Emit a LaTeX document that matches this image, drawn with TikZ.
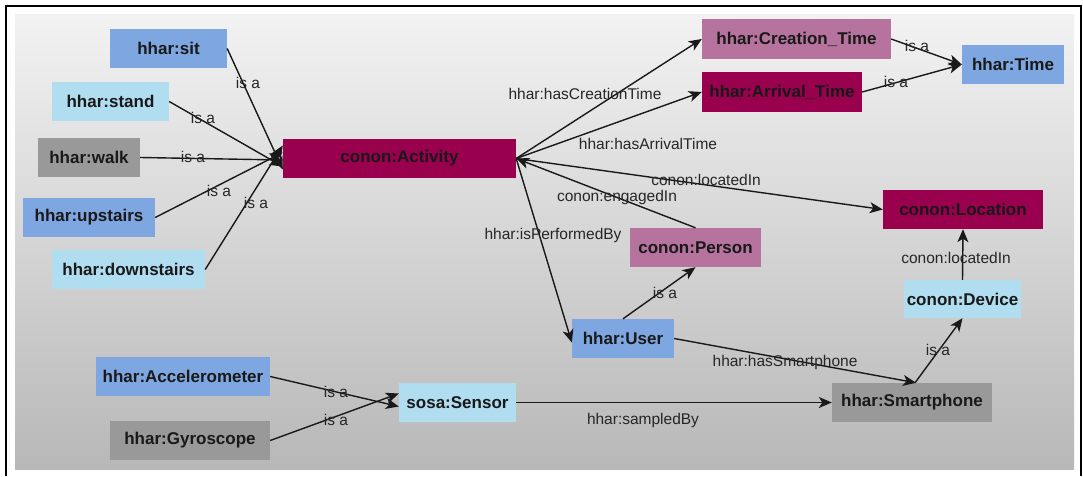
\documentclass[tikz,border=0pt]{standalone}
\usepackage{fontspec}
\setmainfont{Liberation Sans}
\usetikzlibrary{arrows.meta}
\definecolor{cblue}{HTML}{7EA6E0}
\definecolor{clight}{HTML}{B1DDF0}
\definecolor{cgray}{HTML}{999999}
\definecolor{cmaroon}{HTML}{99004D}
\definecolor{cmauve}{HTML}{B5739D}
\begin{document}
\begin{tikzpicture}[x=1pt,y=-1pt,
  box/.style={rectangle, inner sep=0pt, minimum height=39pt,
    font=\fontsize{17}{20}\selectfont\bfseries, text=black!90},
  blue/.style={box, fill=cblue},
  light/.style={box, fill=clight},
  grey/.style={box, fill=cgray},
  maroon/.style={box, fill=cmaroon},
  mauve/.style={box, fill=cmauve},
  rel/.style={draw=black!90, line width=1.4pt,
    -{Stealth[length=13pt,width=11pt,inset=3.5pt]}},
  lbl/.style={font=\fontsize{15.5}{18}\selectfont, text=black!85, inner sep=0pt}
]
\useasboundingbox (0,0) rectangle (1083,476);
% panel and frame
\shade[top color=black!5, bottom color=black!28] (15,15) rectangle (1074,469);
\draw[line width=1.5pt] (6,476) -- (6,6) -- (1081,6) -- (1081,476);

% classes
\node[blue,  minimum width=117pt] (sit)   at (168.5,48.5) {hhar:sit};
\node[light, minimum width=117pt] (stand) at (110.5,101.5) {hhar:stand};
\node[grey,  minimum width=102pt] (walk)  at (89,157.5) {hhar:walk};
\node[blue,  minimum width=132pt] (up)    at (89,217.5) {hhar:upstairs};
\node[light, minimum width=153pt] (down)  at (128.5,269.5) {hhar:downstairs};
\node[blue,  minimum width=174pt] (acc)   at (183,376.5) {hhar:Accelerometer};
\node[grey,  minimum width=160pt] (gyro)  at (190,440.5) {hhar:Gyroscope};
\node[maroon,minimum width=233pt] (act)   at (399.5,158.5) {conon:Activity};
\node[mauve, minimum width=189pt, minimum height=40pt] (ct) at (796.5,39) {hhar:Creation\_Time};
\node[maroon,minimum width=160pt, minimum height=40pt] (at) at (782,92) {hhar:Arrival\_Time};
\node[blue,  minimum width=102pt] (time)  at (1013,64.5) {hhar:Time};
\node[maroon,minimum width=160pt] (loc)   at (963,209.5) {conon:Location};
\node[mauve, minimum width=131pt] (pers)  at (695.5,247.5) {conon:Person};
\node[blue,  minimum width=102pt] (user)  at (623,338.5) {hhar:User};
\node[light, minimum width=117pt] (sens)  at (457.5,402.5) {sosa:Sensor};
\node[light, minimum width=117pt, minimum height=38pt] (dev) at (962.5,299) {conon:Device};
\node[grey,  minimum width=160pt] (phone) at (912,402.5) {hhar:Smartphone};

% subclass links into the activity
\draw[rel] (sit.east)   -- ([yshift=-11pt]act.west);
\draw[rel] (stand.east) -- ([yshift=-8pt]act.west);
\draw[rel] (walk.east)  -- ([yshift=-1.5pt]act.west);
\draw[rel] (up.east)    -- ([yshift=6pt]act.west);
\draw[rel] (down.east)  -- ([yshift=13pt]act.west);

% properties of the activity
\draw[rel] (act.east) -- (ct.west);
\draw[rel] (act.east) -- (at.west);
\draw[rel] (act.east) -- (loc.west);
\draw[rel] (pers.north) -- (act.east);
\draw[rel] (act.east) -- ([yshift=-4pt]user.west);

% time hierarchy
\draw[rel] (ct.east) -- (time.west);
\draw[rel] (at.east) -- (time.west);

% user, device and sensors
\draw[rel] (user.north) -- (pers.south);
\draw[rel] (user.east) -- ([xshift=4pt]phone.north);
\draw[rel] ([xshift=3pt]phone.north) -- (dev.south);
\draw[rel] (dev.north) -- (loc.south);
\draw[rel] (sens.east) -- (phone.west);
\draw[rel] (acc.east) -- ([yshift=-4pt]sens.west);
\draw[rel] (gyro.east) -- ([yshift=9pt]sens.west);

% edge labels
\node[lbl] (l1)  at (248,83)  {is a};
\node[lbl] (l2)  at (203,118) {is a};
\node[lbl] (l3)  at (193,157) {is a};
\node[lbl] (l4)  at (219,191) {is a};
\node[lbl] (l5)  at (256,203) {is a};
\node[lbl] (l6)  at (336,392) {is a};
\node[lbl] (l7)  at (336,420) {is a};
\node[lbl] (l8)  at (665,293) {is a};
\node[lbl] (l9)  at (938,350) {is a};
\node[lbl] (l10) at (917,46)  {is a};
\node[lbl] (l11) at (896,82)  {is a};
\node[lbl] (l12) at (585,94)  {hhar:hasCreationTime};
\node[lbl] (l13) at (648,144) {hhar:hasArrivalTime};
\node[lbl] (l14) at (706,180) {conon:locatedIn};
\node[lbl] (l15) at (617,197) {conon:engagedIn};
\node[lbl] (l16) at (553,235) {hhar:isPerformedBy};
\node[lbl] (l17) at (785,362) {hhar:hasSmartphone};
\node[lbl] (l18) at (956,258) {conon:locatedIn};
\node[lbl] (l19) at (643,420) {hhar:sampledBy};
\end{tikzpicture}
\end{document}
